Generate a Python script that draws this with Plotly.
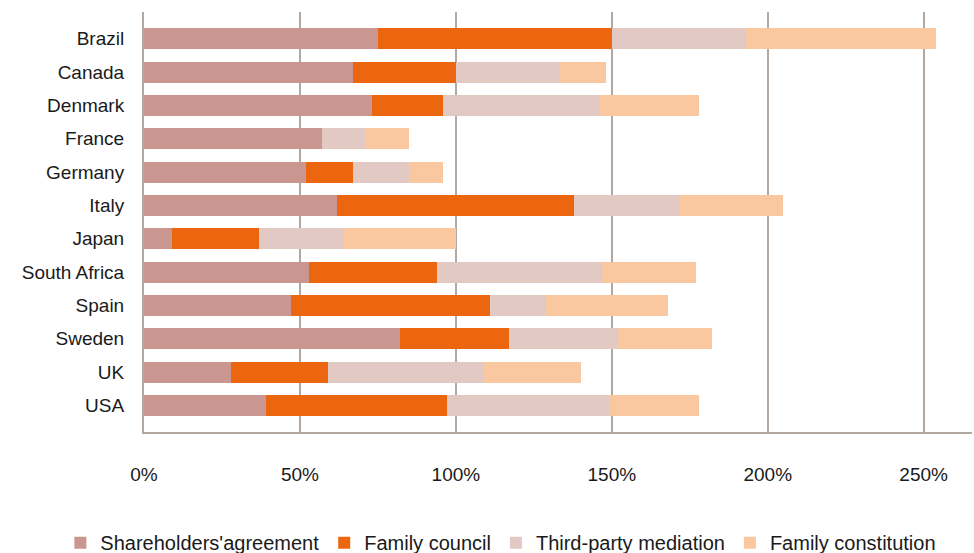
import plotly.graph_objects as go

# Countries, top to bottom
countries = ["Brazil", "Canada", "Denmark", "France", "Germany", "Italy",
             "Japan", "South Africa", "Spain", "Sweden", "UK", "USA"]

# Share of family businesses using each governance tool (%)
shareholders_agreement = [75, 67, 73, 57, 52, 62, 9, 53, 47, 82, 28, 39]
family_council = [75, 33, 23, 0, 15, 76, 28, 41, 64, 35, 31, 58]
third_party_mediation = [43, 33, 50, 14, 18, 34, 27, 53, 18, 35, 50, 52]
family_constitution = [61, 15, 32, 14, 11, 33, 36, 30, 39, 30, 31, 29]

series = [
    ("Shareholders'agreement", shareholders_agreement, "#C9978F"),
    ("Family council", family_council, "#EC6610"),
    ("Third-party mediation", third_party_mediation, "#E3C9C4"),
    ("Family constitution", family_constitution, "#FAC8A0"),
]

tick_vals = [0, 50, 100, 150, 200, 250]
tick_text = ["0%", "50%", "100%", "150%", "200%", "250%"]

FONT = "Liberation Sans, Arial, Helvetica, sans-serif"
GRID = "#B3A8A0"

fig = go.Figure()
for name, vals, color in series:
    fig.add_trace(go.Bar(
        y=countries, x=vals, name=name, orientation="h",
        marker=dict(color=color, line=dict(width=0)),
    ))

fig.update_layout(
    barmode="stack",
    bargap=0.37,
    width=974, height=553,
    margin=dict(l=144, r=2, t=12, b=121, autoexpand=False),
    paper_bgcolor="white", plot_bgcolor="white",
    font=dict(family=FONT, size=19, color="#1a1a1a"),
    showlegend=True,
    legend=dict(
        orientation="h",
        x=-0.101, y=-0.217, xanchor="left", yanchor="top",
        font=dict(size=20), traceorder="normal",
        itemwidth=30, tracegroupgap=0,
    ),
    xaxis=dict(
        range=[0, 265.5], tickvals=tick_vals, ticktext=tick_text,
        showgrid=True, gridcolor=GRID, gridwidth=2,
        showline=True, linecolor=GRID, linewidth=2,
        zeroline=False, ticks="", ticklabelstandoff=24,
        tickfont=dict(size=19),
    ),
    yaxis=dict(
        type="category", categoryorder="array", categoryarray=countries,
        range=[11.8, -0.8],
        showgrid=False, showline=True, linecolor=GRID, linewidth=2,
        ticks="", ticklabelstandoff=14, tickfont=dict(size=19),
    ),
)

fig.write_html("out.html")
